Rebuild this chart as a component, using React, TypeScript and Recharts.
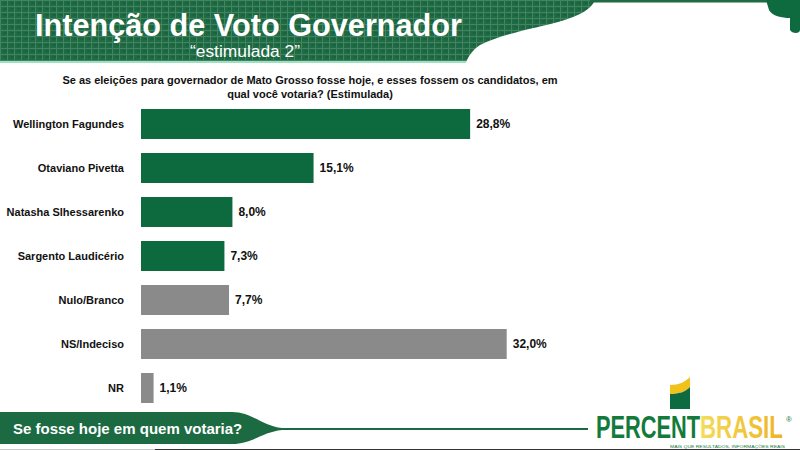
import React from 'react';
import { BarChart, Bar, XAxis, YAxis, Cell, LabelList } from 'recharts';

const candidatos = [
  'Wellington Fagundes',
  'Otaviano Pivetta',
  'Natasha Slhessarenko',
  'Sargento Laudicério',
  'Nulo/Branco',
  'NS/Indeciso',
  'NR',
];
const percentuais = [28.8, 15.1, 8.0, 7.3, 7.7, 32.0, 1.1];
const tipos = ['candidato', 'candidato', 'candidato', 'candidato', 'outro', 'outro', 'outro'];

const data = candidatos.map((nome, i) => ({ nome, valor: percentuais[i], tipo: tipos[i] }));

const VERDE = '#0d6a3f';
const CINZA = '#8a8a8a';
const FONT = '"Liberation Sans", Arial, sans-serif';

const fmt = (v: any) => Number(v).toFixed(1).replace('.', ',') + '%';

const Decor: React.FC = () => (
  <svg width={800} height={450} style={{ position: 'absolute', left: 0, top: 0 }}>
    <defs>
      <pattern id="tex" width="7" height="6" patternUnits="userSpaceOnUse">
        <rect width="7" height="6" fill="#1f6b45" />
        <path d="M0 0.5H7M0.5 0V6" stroke="#4f8f68" strokeWidth="1" opacity="0.7" />
        <path d="M3.5 3H7" stroke="#14583a" strokeWidth="1" />
      </pattern>
      <linearGradient id="brasil" x1="0" y1="0" x2="1" y2="0">
        <stop offset="0" stopColor="#f4dc5a" />
        <stop offset="1" stopColor="#eeb324" />
      </linearGradient>
    </defs>
    {/* cabeçalho */}
    <path d="M0 0H595C585 25 520 25 480 45C470 52 468 58 466 62H0Z" fill="url(#tex)" />
    <line x1="0" y1="62" x2="466" y2="62" stroke="#9fe0c3" strokeWidth="2" />
    <rect x="590" y="0" width="180" height="2.5" fill="#1f6b45" />
    <path d="M766 0H800V30C800 34 792 34 790 30V18C782 18 772 16 769 10Z" fill="#0e6a3f" />
    <text x={35} y={36} fill="#fff" fontFamily={FONT} fontWeight="bold" fontSize={32} textLength={427}
      lengthAdjust="spacingAndGlyphs">Intenção de Voto Governador</text>
    <text x={190} y={57} fill="#fff" fontFamily={FONT} fontSize={16} textLength={110}
      lengthAdjust="spacingAndGlyphs">“estimulada 2”</text>
    {/* pergunta */}
    <text x={310} y={84} textAnchor="middle" fontFamily={FONT} fontWeight="bold" fontSize={11} fill="#111">
      Se as eleições para governador de Mato Grosso fosse hoje, e esses fossem os candidatos, em
    </text>
    <text x={310} y={98} textAnchor="middle" fontFamily={FONT} fontWeight="bold" fontSize={11} fill="#111">
      qual você votaria? (Estimulada)
    </text>
    {/* rodapé */}
    <path d="M0 412H232C252 412 262 426 282 428V430C262 432 252 444 232 444H0Z" fill="#1b6a42" />
    <rect x="280" y="428" width="308" height="2" fill="#1b6a42" />
    <text x={13} y={434} fill="#fff" fontFamily={FONT} fontWeight="bold" fontSize={15}>
      Se fosse hoje em quem votaria?
    </text>
    <rect x="0" y="449" width="155" height="1" fill="#c8c8c8" />
    <rect x="155" y="449" width="645" height="1" fill="#333" />
    {/* logo */}
    <path d="M670 385C679 385 685 382 690 377V387C685 392 679 394 670 394Z" fill="#f1c21b" />
    <path d="M670 394C679 394 685 392 690 387V409H670Z" fill="#0e6a3f" />
    <text transform="translate(596 438) scale(0.727 1.05)" fontFamily={FONT} fontWeight="bold" fontSize={30}
      fill="#137a3c">PERCENT</text>
    <text transform="translate(700 438) scale(0.743 1.05)" fontFamily={FONT} fontWeight="bold" fontSize={30}
      fill="url(#brasil)">BRASIL</text>
    <text x={786} y={422} fontFamily={FONT} fontSize={8} fill="#137a3c">®</text>
    <text x={670} y={448.2} fontFamily={FONT} fontSize={4.2} fill="#137a3c" textLength={115}
      lengthAdjust="spacingAndGlyphs">MAIS QUE RESULTADOS, INFORMAÇÕES REAIS</text>
  </svg>
);

const App: React.FC = () => (
  <div style={{ position: 'fixed', left: 0, top: 0, width: 800, height: 450, background: '#fff', overflow: 'hidden' }}>
    <Decor />
    <div style={{ position: 'absolute', left: 0, top: 0 }}>
      <BarChart
        width={800}
        height={450}
        data={data}
        layout="vertical"
        margin={{ top: 102, right: 259, bottom: 40, left: 0 }}
        barSize={30}
      >
        <XAxis type="number" domain={[0, 35]} hide />
        <YAxis
          type="category"
          dataKey="nome"
          width={141}
          tickLine={false}
          axisLine={false}
          tickMargin={11}
          tick={{ fill: '#111', fontSize: 11, fontWeight: 'bold', fontFamily: FONT }}
        />
        <Bar dataKey="valor" isAnimationActive={false}>
          {data.map((d, i) => (
            <Cell key={i} fill={d.tipo === 'candidato' ? VERDE : CINZA} />
          ))}
          <LabelList
            dataKey="valor"
            position="right"
            offset={6}
            formatter={fmt}
            style={{ fill: '#111', fontSize: 12, fontWeight: 'bold', fontFamily: FONT }}
          />
        </Bar>
      </BarChart>
    </div>
  </div>
);

export default App;
